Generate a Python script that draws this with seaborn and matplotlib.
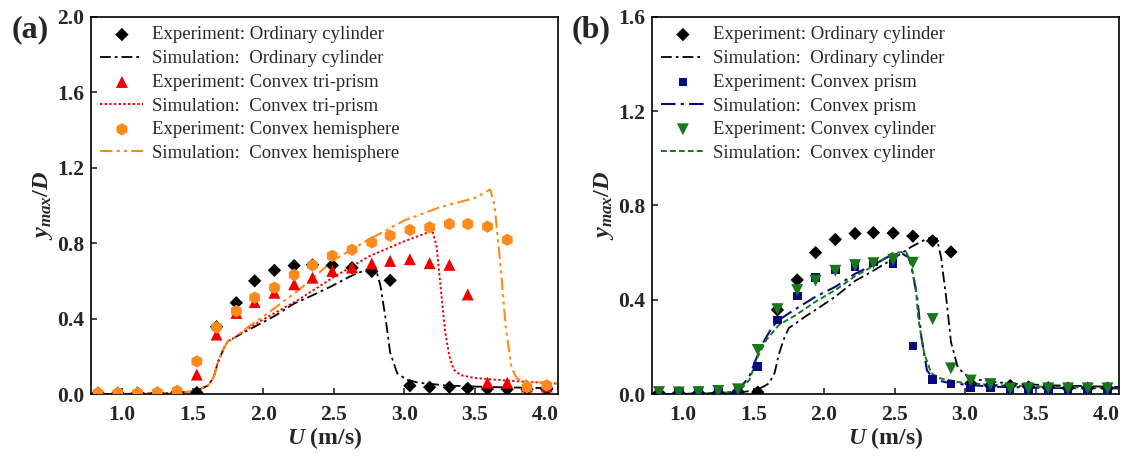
import numpy as np
import pandas as pd
import matplotlib
matplotlib.use("Agg")
import matplotlib.pyplot as plt
import seaborn as sns

# ---------------- data ----------------
U_exp = [0.83, 0.97, 1.11, 1.25, 1.39, 1.53, 1.67, 1.81, 1.94, 2.08, 2.22, 2.35,
         2.49, 2.63, 2.77, 2.90, 3.04, 3.18, 3.32, 3.45, 3.59, 3.73, 3.87, 4.01]

exp_ordinary = [0.005, 0.005, 0.005, 0.005, 0.010, 0.008, 0.357, 0.484, 0.600, 0.656,
                0.681, 0.685, 0.683, 0.670, 0.650, 0.603, 0.044, 0.036, 0.036, 0.030,
                0.027, 0.025, 0.025, 0.025]
exp_triprism = [0.005, 0.005, 0.005, 0.005, 0.010, 0.103, 0.315, 0.430, 0.488, 0.537,
                0.582, 0.617, 0.653, 0.671, 0.692, 0.706, 0.715, 0.694, 0.685, 0.528,
                0.060, 0.060, 0.040, 0.040]
exp_hemisphere = [0.005, 0.005, 0.005, 0.008, 0.016, 0.173, 0.354, 0.440, 0.511, 0.564,
                  0.632, 0.683, 0.733, 0.765, 0.804, 0.840, 0.870, 0.884, 0.902, 0.902,
                  0.888, 0.818, 0.036, 0.046]
exp_prism = [0.005, 0.005, 0.005, 0.008, 0.012, 0.116, 0.314, 0.416, 0.495, 0.526,
             0.540, 0.560, 0.555, 0.204, 0.062, 0.042, 0.028, 0.025, 0.018, 0.018,
             0.018, 0.018, 0.018, 0.018]
exp_cylinder = [0.008, 0.007, 0.008, 0.013, 0.020, 0.187, 0.360, 0.441, 0.481, 0.523,
                0.547, 0.555, 0.569, 0.557, 0.318, 0.109, 0.057, 0.042, 0.024, 0.024,
                0.024, 0.024, 0.024, 0.024]

sim_ord_U = [0.78, 1.0, 1.2, 1.4, 1.5, 1.55, 1.61, 1.65, 1.68, 1.72, 1.75, 1.80, 1.87,
             1.94, 2.08, 2.22, 2.34, 2.48, 2.62, 2.70, 2.76, 2.80, 2.83, 2.87, 2.90,
             2.95, 3.02, 3.10, 3.30, 3.60, 4.09]
sim_ord_y = [0.0, 0.0, 0.003, 0.006, 0.015, 0.025, 0.045, 0.09, 0.17, 0.24, 0.28, 0.30,
             0.33, 0.357, 0.413, 0.48, 0.52, 0.57, 0.625, 0.65, 0.665, 0.66, 0.58,
             0.39, 0.22, 0.11, 0.075, 0.06, 0.045, 0.037, 0.03]

sim_tri_U = [0.78, 1.0, 1.2, 1.4, 1.5, 1.55, 1.61, 1.65, 1.68, 1.72, 1.75, 1.80, 1.90,
             2.0, 2.25, 2.5, 2.75, 3.0, 3.2, 3.23, 3.26, 3.29, 3.32, 3.35, 3.40, 3.5,
             3.75, 4.09]
sim_tri_y = [0.0, 0.0, 0.003, 0.006, 0.015, 0.025, 0.045, 0.09, 0.17, 0.24, 0.28, 0.30,
             0.35, 0.395, 0.50, 0.62, 0.73, 0.81, 0.866, 0.78, 0.55, 0.33, 0.20, 0.13,
             0.10, 0.085, 0.07, 0.055]

sim_hemi_U = [0.78, 1.0, 1.2, 1.4, 1.5, 1.55, 1.61, 1.65, 1.68, 1.72, 1.75, 1.80, 1.90,
              2.0, 2.25, 2.5, 2.75, 3.0, 3.25, 3.5, 3.61, 3.64, 3.68, 3.72, 3.76, 3.80,
              3.90, 4.09]
sim_hemi_y = [0.0, 0.0, 0.003, 0.006, 0.015, 0.025, 0.045, 0.09, 0.17, 0.24, 0.28, 0.30,
              0.36, 0.41, 0.55, 0.71, 0.82, 0.92, 0.99, 1.04, 1.085, 1.0, 0.70, 0.35,
              0.14, 0.08, 0.065, 0.055]

sim_prism_U = [0.78, 1.0, 1.2, 1.35, 1.41, 1.47, 1.515, 1.565, 1.635, 1.68, 1.77, 1.94,
               2.08, 2.22, 2.34, 2.48, 2.55, 2.60, 2.62, 2.66, 2.69, 2.73, 2.78, 2.90,
               3.19, 3.6, 4.09]
sim_prism_y = [0.0, 0.0, 0.003, 0.008, 0.03, 0.073, 0.144, 0.215, 0.286, 0.314, 0.35,
               0.413, 0.455, 0.51, 0.545, 0.59, 0.597, 0.58, 0.54, 0.413, 0.243, 0.10,
               0.062, 0.045, 0.031, 0.026, 0.024]

sim_cyl_U = [0.78, 1.0, 1.2, 1.35, 1.41, 1.47, 1.53, 1.59, 1.68, 1.80, 1.94, 2.08, 2.22,
             2.34, 2.48, 2.58, 2.61, 2.65, 2.67, 2.71, 2.76, 2.82, 2.96, 3.19, 3.6, 4.09]
sim_cyl_y = [0.0, 0.0, 0.003, 0.008, 0.02, 0.059, 0.158, 0.229, 0.293, 0.335, 0.392,
             0.441, 0.50, 0.54, 0.597, 0.604, 0.569, 0.455, 0.314, 0.173, 0.088, 0.067,
             0.05, 0.038, 0.03, 0.026]

x_ticks = [1.0, 1.5, 2.0, 2.5, 3.0, 3.5, 4.0]
y_ticks_a = [0.0, 0.4, 0.8, 1.2, 1.6, 2.0]
y_ticks_b = [0.0, 0.4, 0.8, 1.2, 1.6]

# ---------------- style ----------------
sns.set_theme(style="ticks")
plt.rcParams.update({
    "font.family": ["Liberation Serif", "DejaVu Serif"],
    "mathtext.fontset": "custom",
    "mathtext.it": "Liberation Serif:italic:bold",
    "mathtext.rm": "Liberation Serif:bold",
    "mathtext.bf": "Liberation Serif:bold",
    "axes.linewidth": 1.2,
    "xtick.direction": "in",
    "ytick.direction": "in",
    "xtick.major.size": 4,
    "ytick.major.size": 4,
    "xtick.major.width": 1.2,
    "ytick.major.width": 1.2,
})

BLACK = "#000000"
RED = "#F00000"
ORANGE = "#FF8A1C"
NAVY = "#0A0A80"
GREEN = "#17771A"

dash_dot = (0, (6, 2.2, 1.5, 2.2))
dotted = (0, (1.2, 1.2))
dash_dot_dot = (0, (6, 2, 1.5, 2, 1.5, 2))
long_dash_dot = (0, (7, 2.5, 1.5, 2.5))
short_dash = (0, (3, 1.6))

fig = plt.figure(figsize=(11.26, 4.59), dpi=100)
ax_a = fig.add_axes([0.0808, 0.1416, 0.4148, 0.8214])
ax_b = fig.add_axes([0.5790, 0.1416, 0.4146, 0.8214])


def sim(ax, xs, ys, color, ls, label, lw=1.3):
    df = pd.DataFrame({"U": xs, "y": ys})
    sns.lineplot(data=df, x="U", y="y", ax=ax, color=color, linestyle=ls,
                 linewidth=lw, sort=False, estimator=None, label=label)


def exp(ax, ys, color, marker, size, label):
    df = pd.DataFrame({"U": U_exp, "y": ys})
    sns.scatterplot(data=df, x="U", y="y", ax=ax, color=color, marker=marker,
                    s=size, edgecolor="none", linewidth=0, label=label, zorder=3)


# panel (a)
exp(ax_a, exp_ordinary, BLACK, "D", 46, "Experiment: Ordinary cylinder")
sim(ax_a, sim_ord_U, sim_ord_y, BLACK, dash_dot, "Simulation:  Ordinary cylinder")
exp(ax_a, exp_triprism, RED, "^", 74, "Experiment: Convex tri-prism")
sim(ax_a, sim_tri_U, sim_tri_y, RED, dotted, "Simulation:  Convex tri-prism", lw=1.4)
exp(ax_a, exp_hemisphere, ORANGE, "h", 80, "Experiment: Convex hemisphere")
sim(ax_a, sim_hemi_U, sim_hemi_y, ORANGE, dash_dot_dot, "Simulation:  Convex hemisphere", lw=1.5)

# panel (b)
exp(ax_b, exp_ordinary, BLACK, "D", 46, "Experiment: Ordinary cylinder")
sim(ax_b, sim_ord_U, sim_ord_y, BLACK, dash_dot, "Simulation:  Ordinary cylinder")
exp(ax_b, exp_prism, NAVY, "s", 38, "Experiment: Convex prism")
sim(ax_b, sim_prism_U, sim_prism_y, NAVY, long_dash_dot, "Simulation:  Convex prism", lw=1.5)
exp(ax_b, exp_cylinder, GREEN, "v", 74, "Experiment: Convex cylinder")
sim(ax_b, sim_cyl_U, sim_cyl_y, GREEN, short_dash, "Simulation:  Convex cylinder", lw=1.4)

for ax, yt, ymax, tag in [(ax_a, y_ticks_a, 2.0, "(a)"), (ax_b, y_ticks_b, 1.6, "(b)")]:
    ax.set_xlim(0.78, 4.09)
    ax.set_ylim(0.0, ymax)
    ax.set_xticks(x_ticks)
    ax.set_yticks(yt)
    ax.set_xticklabels([f"{v:.1f}" for v in x_ticks], fontsize=15.5, fontweight="bold")
    ax.set_yticklabels([f"{v:.1f}" for v in yt], fontsize=15.5, fontweight="bold")
    ax.tick_params(axis="x", which="both", top=False, pad=8)
    ax.tick_params(axis="y", which="both", right=False, pad=5)
    for sp in ax.spines.values():
        sp.set_visible(True)
        sp.set_linewidth(1.2)
        sp.set_color("black")
    ax.set_xlabel(r"$U$ (m/s)", fontsize=17, fontweight="bold", labelpad=0)
    ax.set_ylabel(r"$y_{max}/D$", fontsize=17.5, labelpad=1)
    handles, labels = ax.get_legend_handles_labels()
    ax.legend(handles, labels, loc="upper left", bbox_to_anchor=(0.0, 1.0),
              frameon=False, fontsize=13.5, handlelength=2.3, handletextpad=0.45,
              labelspacing=0.35, borderaxespad=0.25, borderpad=0.25)
    ax.text(-0.13, 1.005, tag, transform=ax.transAxes, fontsize=23,
            fontweight="bold", ha="center", va="top")

fig.savefig("out.png", dpi=100)
